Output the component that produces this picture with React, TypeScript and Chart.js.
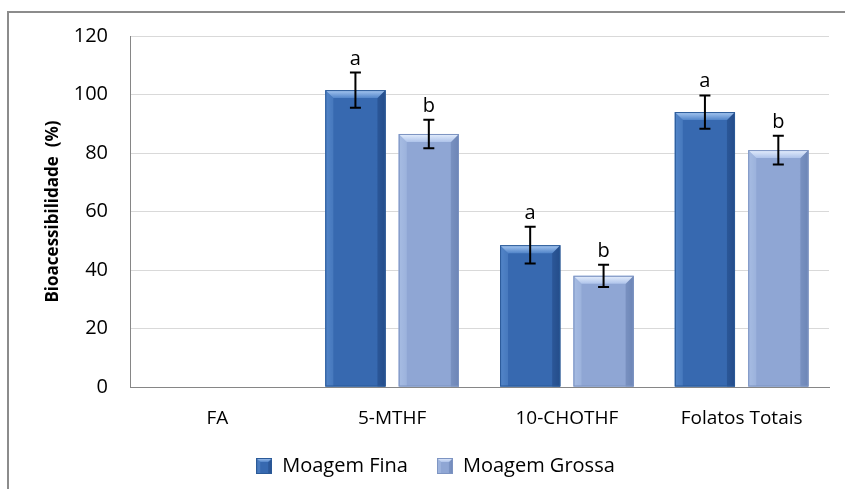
import { useEffect, useRef } from "react";
import { Chart, registerables } from "chart.js";

Chart.register(...registerables);

// Bioaccessibility of folate forms for two milling grades
const categories = ["FA", "5-MTHF", "10-CHOTHF", "Folatos Totais"];
const seriesNames = ["Moagem Fina", "Moagem Grossa"];
const finaValues = [null, 101.5, 48.5, 94];
const finaErrors = [null, 6, 6.3, 5.7];
const finaLetters = [null, "a", "a", "a"];
const grossaValues = [null, 86.5, 38, 81];
const grossaErrors = [null, 4.9, 3.8, 4.9];
const grossaLetters = [null, "b", "b", "b"];
const yMin = 0;
const yMax = 120;
const yStep = 20;
const yTitle = "Bioacessibilidade  (%)";

const FONT = "'Open Sans', 'DejaVu Sans', sans-serif";

type Palette = {
  main: string;
  left: string;
  right: string;
  topLight: string;
  topDark: string;
  edge: string;
};

const palettes: Palette[] = [
  {
    main: "#3769b0",
    left: "#5385c8",
    right: "#244d8a",
    topLight: "#a9c9f2",
    topDark: "#5285c9",
    edge: "#2b5a98",
  },
  {
    main: "#8fa6d4",
    left: "#a7bce3",
    right: "#6d85b6",
    topLight: "#e6effd",
    topDark: "#aec3ea",
    edge: "#7d94c2",
  },
];

const errorSets = [finaErrors, grossaErrors];
const letterSets = [finaLetters, grossaLetters];

// Draws one bevelled bar body (gradient face, side strips, lit top edge)
function paintBar(
  ctx: CanvasRenderingContext2D,
  pal: Palette,
  l: number,
  t: number,
  w: number,
  h: number,
  bevel: number
) {
  const r = l + w;
  const bt = t + h;
  const b = Math.min(bevel, h / 2, w / 4);
  const g = ctx.createLinearGradient(l, 0, r, 0);
  g.addColorStop(0, pal.left);
  g.addColorStop(0.12, pal.main);
  g.addColorStop(0.85, pal.main);
  g.addColorStop(1, pal.right);
  ctx.fillStyle = g;
  ctx.fillRect(l, t, w, h);
  ctx.globalAlpha = 0.6;
  ctx.beginPath();
  ctx.moveTo(l, t);
  ctx.lineTo(l + b, t + b);
  ctx.lineTo(l + b, bt);
  ctx.lineTo(l, bt);
  ctx.closePath();
  ctx.fillStyle = pal.left;
  ctx.fill();
  ctx.beginPath();
  ctx.moveTo(r, t);
  ctx.lineTo(r - b, t + b);
  ctx.lineTo(r - b, bt);
  ctx.lineTo(r, bt);
  ctx.closePath();
  ctx.fillStyle = pal.right;
  ctx.fill();
  ctx.globalAlpha = 1;
  const tg = ctx.createLinearGradient(0, t, 0, t + b);
  tg.addColorStop(0, pal.topLight);
  tg.addColorStop(1, pal.topDark);
  ctx.beginPath();
  ctx.moveTo(l, t);
  ctx.lineTo(r, t);
  ctx.lineTo(r - b, t + b);
  ctx.lineTo(l + b, t + b);
  ctx.closePath();
  ctx.fillStyle = tg;
  ctx.fill();
  ctx.strokeStyle = pal.edge;
  ctx.lineWidth = 1;
  ctx.strokeRect(l + 0.5, t + 0.5, w - 1, h - 1);
}

function legendSwatch(pal: Palette): HTMLCanvasElement {
  const c = document.createElement("canvas");
  c.width = 16;
  c.height = 16;
  const cx = c.getContext("2d");
  if (cx) paintBar(cx, pal, 0, 0, 16, 16, 4);
  return c;
}

const framePlugin = {
  id: "frame",
  beforeDraw(chart: Chart) {
    const { ctx, width, height } = chart;
    ctx.save();
    ctx.fillStyle = "#ffffff";
    ctx.fillRect(0, 0, width, height);
    ctx.strokeStyle = "#8c8c8c";
    ctx.lineWidth = 2;
    ctx.beginPath();
    ctx.moveTo(8, height + 2);
    ctx.lineTo(8, 12);
    ctx.lineTo(width + 2, 12);
    ctx.stroke();
    ctx.restore();
  },
};

const barStylePlugin = {
  id: "barStyle",
  afterDatasetsDraw(chart: Chart) {
    const ctx = chart.ctx;
    const yScale = chart.scales.y;
    chart.data.datasets.forEach((ds, di) => {
      const meta = chart.getDatasetMeta(di);
      const pal = palettes[di];
      meta.data.forEach((el: any, i: number) => {
        const v = ds.data[i] as number | null;
        if (v == null) return;
        const { x, y, base, width } = el.getProps(["x", "y", "base", "width"], true);
        ctx.save();
        paintBar(ctx, pal, x - width / 2, y, width, base - y, 8);
        ctx.restore();
      });
    });
    // error bars and significance letters
    chart.data.datasets.forEach((ds, di) => {
      const meta = chart.getDatasetMeta(di);
      const errs = errorSets[di];
      const letters = letterSets[di];
      meta.data.forEach((el: any, i: number) => {
        const v = ds.data[i] as number | null;
        const e = errs[i];
        if (v == null || e == null) return;
        const x = el.x;
        const yTop = yScale.getPixelForValue(v + e);
        const yBot = yScale.getPixelForValue(v - e);
        const cap = 5.5;
        ctx.save();
        ctx.strokeStyle = "#000000";
        ctx.lineWidth = 2;
        ctx.beginPath();
        ctx.moveTo(x, yTop);
        ctx.lineTo(x, yBot);
        ctx.moveTo(x - cap, yTop);
        ctx.lineTo(x + cap, yTop);
        ctx.moveTo(x - cap, yBot);
        ctx.lineTo(x + cap, yBot);
        ctx.stroke();
        const letter = letters[i];
        if (letter) {
          ctx.fillStyle = "#000000";
          ctx.font = `20px ${FONT}`;
          ctx.textAlign = "center";
          ctx.textBaseline = "alphabetic";
          ctx.fillText(letter, x, yTop - 8);
        }
        ctx.restore();
      });
    });
  },
};

export default function App() {
  const canvasRef = useRef<HTMLCanvasElement | null>(null);

  useEffect(() => {
    const canvas = canvasRef.current;
    if (!canvas) return;
    const swatches = palettes.map(legendSwatch);
    const padLeft = 42;
    const chart = new Chart(canvas, {
      type: "bar",
      data: {
        labels: categories,
        datasets: [
          {
            label: seriesNames[0],
            data: finaValues,
            backgroundColor: palettes[0].main,
            borderWidth: 0,
          },
          {
            label: seriesNames[1],
            data: grossaValues,
            backgroundColor: palettes[1].main,
            borderWidth: 0,
          },
        ],
      },
      options: {
        responsive: false,
        animation: false,
        devicePixelRatio: 1,
        layout: { padding: { top: 36, right: 16, bottom: 3, left: padLeft } },
        datasets: {
          bar: { categoryPercentage: 0.84, barPercentage: 0.82 },
        },
        scales: {
          x: {
            grid: { display: false, drawTicks: false },
            border: { display: true, color: "#868686", width: 1 },
            ticks: {
              color: "#000000",
              font: { family: FONT, size: 19 },
              padding: 20,
              maxRotation: 0,
            },
            afterFit(scale: any) {
              scale.height = 40;
            },
          },
          y: {
            min: yMin,
            max: yMax,
            grid: { color: "#d9d9d9", lineWidth: 1, drawTicks: false },
            border: { display: true, color: "#868686", width: 1 },
            ticks: {
              stepSize: yStep,
              color: "#000000",
              font: { family: FONT, size: 20 },
              padding: 22,
            },
            title: {
              display: true,
              text: yTitle,
              color: "#000000",
              font: { family: FONT, size: 17, weight: "bold" },
              padding: { top: 53 - padLeft - 10, bottom: 0 },
            },
            afterFit(scale: any) {
              scale.width = 130 - padLeft;
            },
          },
        },
        plugins: {
          legend: {
            position: "bottom",
            labels: {
              usePointStyle: true,
              boxWidth: 16,
              boxHeight: 16,
              padding: 29,
              color: "#000000",
              font: { family: FONT, size: 20 },
              generateLabels: (ch: Chart) =>
                ch.data.datasets.map((ds, i) => ({
                  text: String(ds.label),
                  pointStyle: swatches[i],
                  fillStyle: palettes[i].main,
                  strokeStyle: palettes[i].main,
                  lineWidth: 0,
                  hidden: false,
                  datasetIndex: i,
                })),
            },
          },
          tooltip: { enabled: false },
        },
      },
      plugins: [framePlugin, barStylePlugin],
    });
    return () => chart.destroy();
  }, []);

  return (
    <div style={{ position: "absolute", left: 0, top: 0, width: 845, height: 489 }}>
      <canvas ref={canvasRef} width={845} height={489} style={{ width: 845, height: 489 }} />
    </div>
  );
}
